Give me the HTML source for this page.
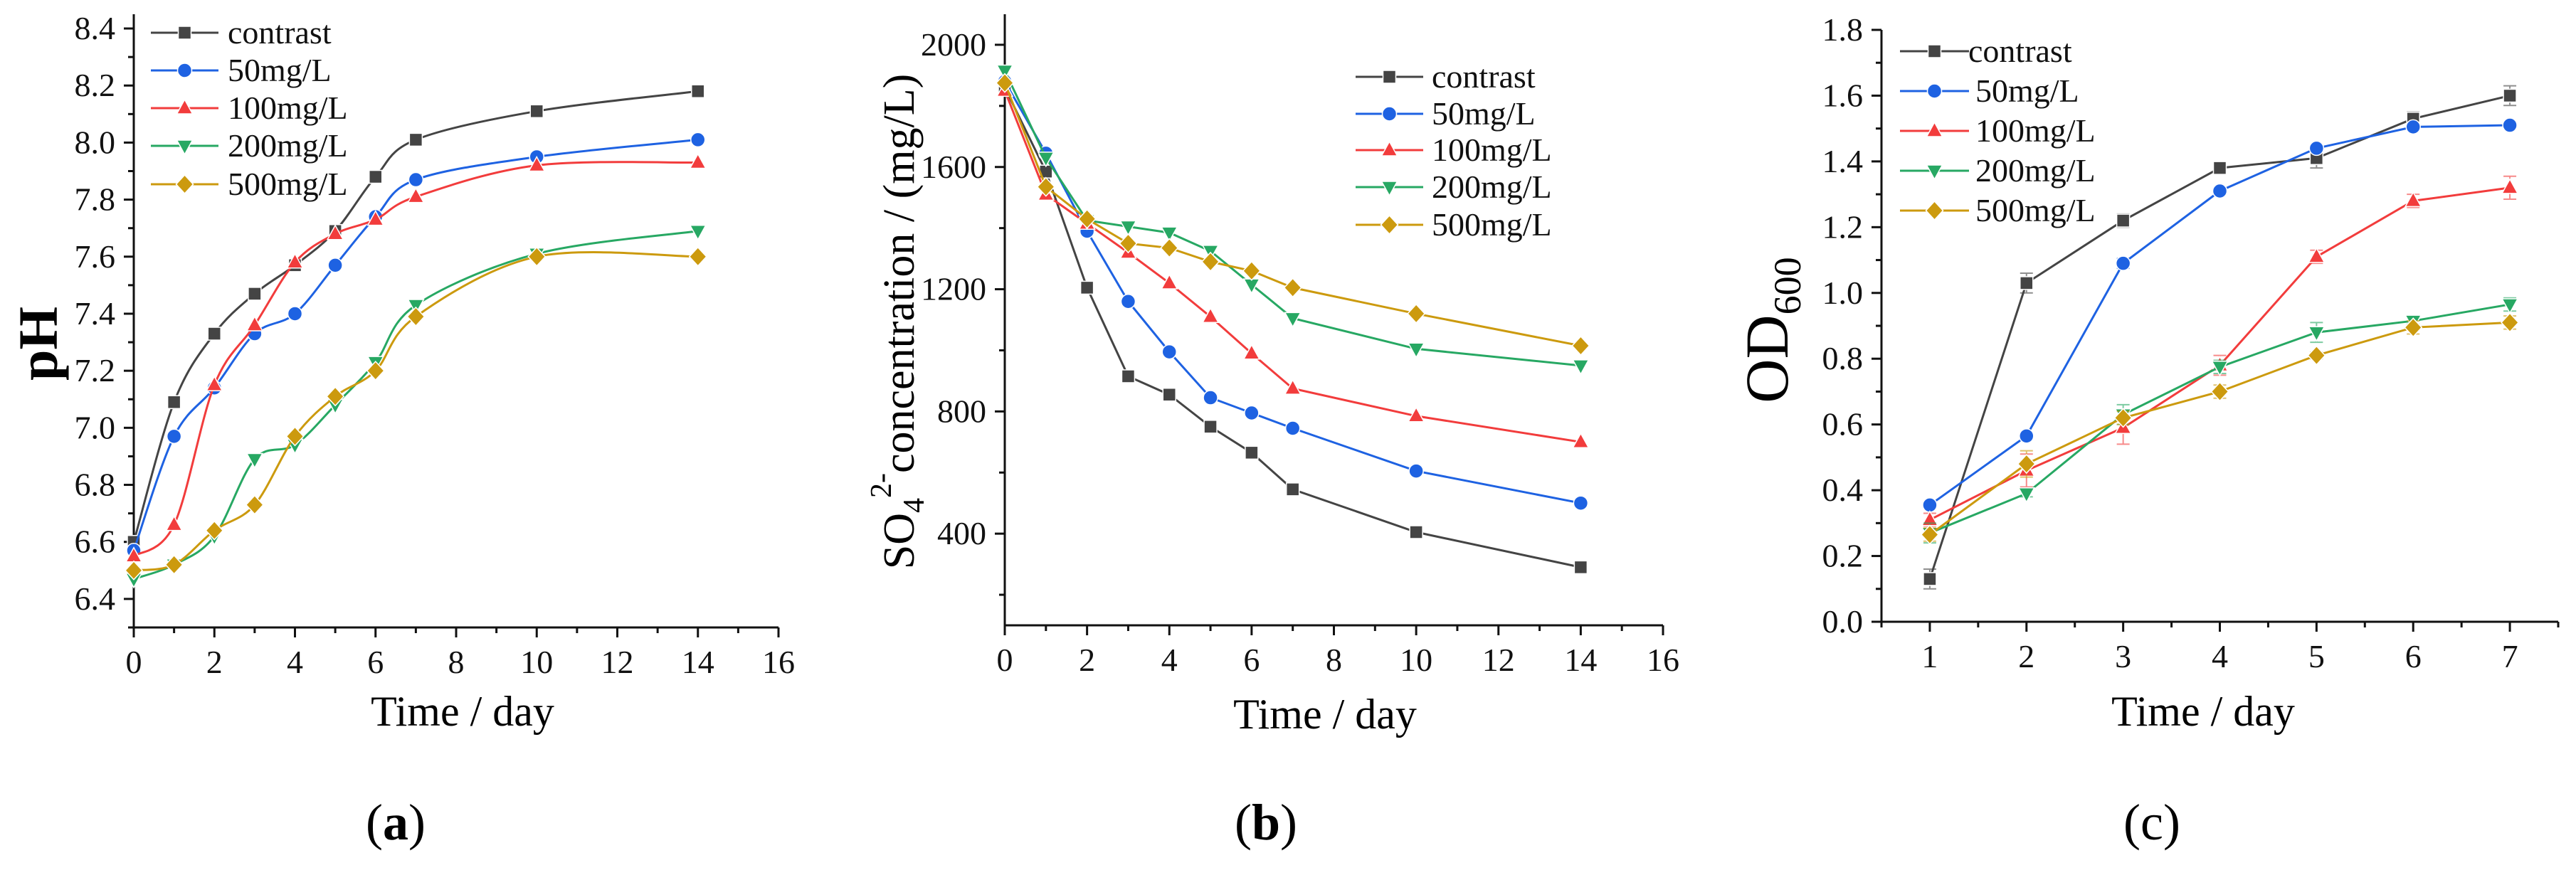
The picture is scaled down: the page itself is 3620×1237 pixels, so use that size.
<!DOCTYPE html>
<html><head><meta charset="utf-8"><style>
html,body{margin:0;padding:0;background:#fff;}
svg{font-family:"Liberation Serif",serif;}
</style></head><body>
<svg id="fig" width="3620" height="1232" viewBox="0 0 3620 1232" xmlns="http://www.w3.org/2000/svg" font-family="Liberation Serif, serif">
<rect width="3620" height="1232" fill="#fff"/>
<g id="pa"></g>
<g id="pb"></g>
<g id="pc"></g>
<g font-size="46" fill="#111">
<text x="320" y="61">contrast</text>
<text x="320" y="114">50mg/L</text>
<text x="320" y="167">100mg/L</text>
<text x="320" y="220">200mg/L</text>
<text x="320" y="274">500mg/L</text>
</g>
<g font-size="46" fill="#111">
<text x="2012" y="123">contrast</text>
<text x="2012" y="175">50mg/L</text>
<text x="2012" y="226">100mg/L</text>
<text x="2012" y="278">200mg/L</text>
<text x="2012" y="331">500mg/L</text>
</g>
<g font-size="46" fill="#111">
<text x="2766" y="87">contrast</text>
<text x="2776" y="143">50mg/L</text>
<text x="2776" y="199">100mg/L</text>
<text x="2776" y="255">200mg/L</text>
<text x="2776" y="311">500mg/L</text>
</g>
<text transform="translate(80,483) rotate(-90)" text-anchor="middle" font-size="78" font-weight="bold">pH</text>
<text x="650" y="1020" text-anchor="middle" font-size="60">Time / day</text>
<text x="556" y="1180" text-anchor="middle" font-size="72">(<tspan font-weight="bold">a</tspan>)</text>
<text transform="translate(1284,452) rotate(-90)" text-anchor="middle" font-size="62">SO<tspan font-size="42" dy="14">4</tspan><tspan font-size="42" dy="-46">2-</tspan><tspan dy="32">concentration / (mg/L)</tspan></text>
<text x="1862" y="1024" text-anchor="middle" font-size="60">Time / day</text>
<text x="1779" y="1180" text-anchor="middle" font-size="72">(<tspan font-weight="bold">b</tspan>)</text>
<text transform="translate(2512,464) rotate(-90)" text-anchor="middle" font-size="86">OD<tspan font-size="54" dy="18">600</tspan></text>
<text x="3096" y="1020" text-anchor="middle" font-size="60">Time / day</text>
<text x="3024" y="1180" text-anchor="middle" font-size="72">(c)</text>
</svg>
<script>
// ---- data ----
const seriesNames = ["contrast","50mg/L","100mg/L","200mg/L","500mg/L"];
const daysAB = [0,1,2,3,4,5,6,7,10,14];
const phContrast = [6.60,7.09,7.33,7.47,7.57,7.69,7.88,8.01,8.11,8.18];
const ph50 = [6.57,6.97,7.14,7.33,7.40,7.57,7.74,7.87,7.95,8.01];
const ph100 = [6.55,6.66,7.15,7.36,7.58,7.68,7.73,7.81,7.92,7.93];
const ph200 = [6.47,6.52,6.62,6.89,6.94,7.08,7.23,7.43,7.61,7.69];
const ph500 = [6.50,6.52,6.64,6.73,6.97,7.11,7.20,7.39,7.60,7.60];
const soContrast = [1860,1585,1205,915,855,750,665,545,405,290];
const so50 = [1880,1645,1390,1160,995,845,795,745,605,500];
const so100 = [1850,1510,1415,1320,1220,1110,990,875,785,700];
const so200 = [1915,1630,1425,1405,1385,1325,1215,1105,1005,950];
const so500 = [1875,1535,1430,1350,1335,1290,1260,1205,1120,1015];
const daysC = [1,2,3,4,5,6,7];
const odContrast = [0.13,1.03,1.22,1.38,1.41,1.53,1.60];
const od50 = [0.355,0.565,1.09,1.31,1.44,1.505,1.51];
const od100 = [0.31,0.46,0.59,0.78,1.11,1.28,1.32];
const od200 = [0.27,0.39,0.63,0.775,0.88,0.915,0.965];
const od500 = [0.265,0.48,0.62,0.70,0.81,0.895,0.91];
const odErrContrast = [0.03,0.03,0.02,0.015,0.03,0.02,0.03];
const odErr50 = [0.01,0.01,0.015,0.01,0.01,0.01,0.01];
const odErr100 = [0.02,0.05,0.05,0.03,0.02,0.02,0.035];
const odErr200 = [0.03,0.01,0.03,0.02,0.03,0.01,0.02];
const odErr500 = [0.02,0.04,0.02,0.02,0.01,0.02,0.02];
const phTicks = ["6.4","6.6","6.8","7.0","7.2","7.4","7.6","7.8","8.0","8.2","8.4"];
const soTicks = ["400","800","1200","1600","2000"];
const odTicks = ["0.0","0.2","0.4","0.6","0.8","1.0","1.2","1.4","1.6","1.8"];
const xTicksAB = ["0","2","4","6","8","10","12","14","16"];
const xTicksC = ["1","2","3","4","5","6","7"];

const colors = ["#444444","#1e62e2","#f23c3c","#27a863","#cc9a0e"];
const shapes = ["square","circle","up","down","diamond"];
const NS = "http://www.w3.org/2000/svg";
function mk(tag, attrs, parent){const e=document.createElementNS(NS,tag);for(const k in attrs)e.setAttribute(k,attrs[k]);parent.appendChild(e);return e;}
function mkText(parent, x, y, anchor, size, str){
  const e=document.createElementNS(NS,"text");
  e.setAttribute("x",x);e.setAttribute("y",y);
  e.setAttribute("text-anchor",anchor);
  e.setAttribute("fill","#111");
  e.setAttribute("font-family","Liberation Serif");
  e.setAttribute("font-size",size);
  e.textContent=str;
  parent.appendChild(e);
  return e;
}
function marker(g,shape,x,y,c){
  let e;
  if(shape==="square") e=mk("rect",{x:x-9,y:y-9,width:18,height:18,fill:c},g);
  else if(shape==="circle") e=mk("circle",{cx:x,cy:y,r:10,fill:c},g);
  else if(shape==="up") e=mk("polygon",{points:`${x},${y-12} ${x+11},${y+8} ${x-11},${y+8}`,fill:c},g);
  else if(shape==="down") e=mk("polygon",{points:`${x},${y+12} ${x+11},${y-8} ${x-11},${y-8}`,fill:c},g);
  else e=mk("polygon",{points:`${x},${y-13} ${x+12},${y} ${x},${y+13} ${x-12},${y}`,fill:c},g);
  e.setAttribute("stroke","#fff");e.setAttribute("stroke-width","1.5");
  
  
  return e;
}
function spline(pts){
  let d=`M${pts[0][0]},${pts[0][1]}`;
  for(let i=0;i<pts.length-1;i++){
    const p0=pts[Math.max(0,i-1)],p1=pts[i],p2=pts[i+1],p3=pts[Math.min(pts.length-1,i+2)];
    const c1x=p1[0]+(p2[0]-p0[0])/6,c1y=p1[1]+(p2[1]-p0[1])/6;
    const c2x=p2[0]-(p3[0]-p1[0])/6,c2y=p2[1]-(p3[1]-p1[1])/6;
    d+=` C${c1x},${c1y} ${c2x},${c2y} ${p2[0]},${p2[1]}`;
  }
  return d;
}
function panel(cfg){
  const g=document.getElementById(cfg.id);
  const X=v=>cfg.x0+(v-cfg.xmin)/(cfg.xmax-cfg.xmin)*(cfg.x1-cfg.x0);
  const Y=v=>cfg.y0-(v-cfg.ymin)/(cfg.ymax-cfg.ymin)*(cfg.y0-cfg.y1);
  const ax=mk("g",{},g);
  
  
  mk("path",{d:`M${cfg.x0},${cfg.y1} V${cfg.y0} H${cfg.x1}`,fill:"none",stroke:"#111","stroke-width":3},ax);
  for(let v=cfg.yminTick;v<=cfg.ymax+1e-9;v+=cfg.yminor){
    const major=Math.abs(((v-cfg.ymajor0)/cfg.ymajor)-Math.round((v-cfg.ymajor0)/cfg.ymajor))<1e-6;
    mk("line",{x1:cfg.x0,x2:cfg.x0-(major?14:8),y1:Y(v),y2:Y(v),stroke:"#111","stroke-width":3},ax);
  }
  cfg.yLabels.forEach((t)=>{
    const tx=mkText(ax,cfg.x0-26,Y(parseFloat(t))+15,"end",46,t);
    
    
  });
  for(let v=cfg.xminTick;v<=cfg.xmax+1e-9;v+=cfg.xminor){
    const major=Math.abs(((v-cfg.xmajor0)/cfg.xmajor)-Math.round((v-cfg.xmajor0)/cfg.xmajor))<1e-6;
    mk("line",{x1:X(v),x2:X(v),y1:cfg.y0,y2:cfg.y0+(major?14:8),stroke:"#111","stroke-width":3},ax);
  }
  cfg.xLabels.forEach((t)=>{
    const tx=mkText(ax,X(parseFloat(t)),cfg.y0+64,"middle",46,t);
    
    
  });
  cfg.series.forEach((s,i)=>{
    const sg=mk("g",{},g);
    
    
    const pts=cfg.xs.map((x,j)=>[X(x),Y(s[j])]);
    const d=cfg.smooth?spline(pts):"M"+pts.map(p=>p.join(",")).join(" L");
    const ln=mk("path",{d:d,fill:"none",stroke:colors[i],"stroke-width":3},sg);
    
    
    if(cfg.errs){
      cfg.xs.forEach((x,j)=>{
        const e=cfg.errs[i][j],px=X(x);
        const eb=mk("path",{d:`M${px},${Y(s[j]-e)} V${Y(s[j]+e)} M${px-9},${Y(s[j]-e)} h18 M${px-9},${Y(s[j]+e)} h18`,stroke:colors[i],"stroke-width":2,fill:"none",opacity:0.6},sg);
        
        
      });
    }
    pts.forEach(p=>marker(sg,shapes[i],p[0],p[1],colors[i]));
  });
  const lg=mk("g",{},g);
  
  
  seriesNames.forEach((n,i)=>{
    const y=cfg.leg.rows[i];
    const eg=mk("g",{},lg);
    
    
    mk("line",{x1:cfg.leg.l0,x2:cfg.leg.l1,y1:y,y2:y,stroke:colors[i],"stroke-width":3},eg);
    marker(eg,shapes[i],(cfg.leg.l0+cfg.leg.l1)/2,y,colors[i]);
  });
}
panel({id:"pa",x0:188,x1:1094,y0:882,y1:20,xmin:0,xmax:16,ymin:6.3,ymax:8.45,
  yminTick:6.3,yminor:0.1,ymajor:0.2,ymajor0:6.4,xminTick:0,xminor:1,xmajor:2,xmajor0:0,
  yLabels:phTicks,xLabels:xTicksAB,xs:daysAB,smooth:true,
  series:[phContrast,ph50,ph100,ph200,ph500],
  leg:{l0:212,l1:307,rows:[46,99,152,205,259]}});
panel({id:"pb",x0:1412,x1:2337,y0:879,y1:20,xmin:0,xmax:16,ymin:100,ymax:2100,
  yminTick:200,yminor:200,ymajor:400,ymajor0:400,xminTick:0,xminor:1,xmajor:2,xmajor0:0,
  yLabels:soTicks,xLabels:xTicksAB,xs:daysAB,smooth:false,
  series:[soContrast,so50,so100,so200,so500],
  leg:{l0:1905,l1:2000,rows:[108,160,211,263,316]}});
panel({id:"pc",x0:2644,x1:3595,y0:874,y1:42,xmin:0.5,xmax:7.5,ymin:0,ymax:1.8,
  yminTick:0,yminor:0.1,ymajor:0.2,ymajor0:0,xminTick:0.5,xminor:0.5,xmajor:1,xmajor0:1,
  yLabels:odTicks,xLabels:xTicksC,xs:daysC,smooth:false,
  series:[odContrast,od50,od100,od200,od500],
  errs:[odErrContrast,odErr50,odErr100,odErr200,odErr500],
  leg:{l0:2670,l1:2767,rows:[72,128,184,240,296]}});
</script>
</body></html>
